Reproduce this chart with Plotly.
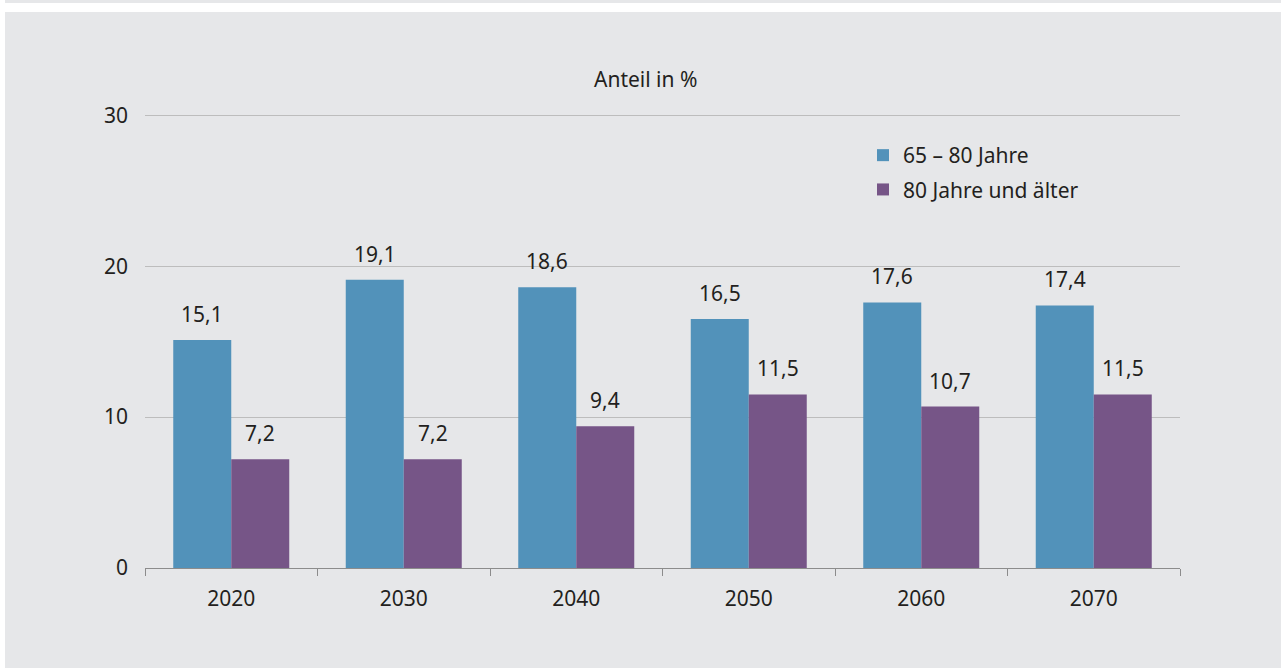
import plotly.graph_objects as go

years = ["2020", "2030", "2040", "2050", "2060", "2070"]
series_names = ["65 – 80 Jahre", "80 Jahre und älter"]
values_65_80 = [15.1, 19.1, 18.6, 16.5, 17.6, 17.4]
values_80plus = [7.2, 7.2, 9.4, 11.5, 10.7, 11.5]
y_ticks = [0, 10, 20, 30]
y_title = "Anteil in %"

W, H = 1281, 668
ML, MR, MT, MB = 145, 101, 113, 100
PW, PH = W - ML - MR, H - MT - MB

BG = "#E6E7E9"
BLUE = "#5292BA"
PURPLE = "#765587"
TXT = "#231F20"
FONT = "Noto Sans"
FS = 21

def px_x(p):
    return (p - ML) / PW

def px_y(p):
    return (H - MB - p) / PH

fig = go.Figure()
fig.add_trace(go.Bar(x=years, y=values_65_80, name=series_names[0],
                     marker=dict(color=BLUE, line=dict(width=0)),
                     legendgroup="a"))
fig.add_trace(go.Bar(x=years, y=values_80plus, name=series_names[1],
                     marker=dict(color=PURPLE, line=dict(width=0)),
                     legendgroup="b"))

annotations = []
for vals, shift in ((values_65_80, -29), (values_80plus, 29)):
    for i, v in enumerate(vals):
        annotations.append(dict(
            x=i, y=v, xref="x", yref="y",
            text=f"{v:.1f}".replace(".", ","),
            showarrow=False, xanchor="center", yanchor="bottom",
            xshift=shift, yshift=10,
            font=dict(family=FONT, size=FS, color=TXT)))

annotations.append(dict(
    x=px_x(645), y=px_y(79), xref="paper", yref="paper",
    text=y_title, showarrow=False, xanchor="center", yanchor="middle",
    font=dict(family=FONT, size=FS, color=TXT)))

shapes = [
    dict(type="rect", xref="paper", yref="paper",
         x0=px_x(-2), x1=px_x(5), y0=px_y(H + 2), y1=px_y(-2),
         fillcolor="white", line=dict(width=0), layer="above"),
    dict(type="rect", xref="paper", yref="paper",
         x0=px_x(-2), x1=px_x(W + 2), y0=px_y(12), y1=px_y(3),
         fillcolor="white", line=dict(width=0), layer="above"),
]

fig.update_layout(
    width=W, height=H, autosize=False,
    margin=dict(l=ML, r=MR, t=MT, b=MB, pad=0),
    paper_bgcolor=BG, plot_bgcolor=BG,
    barmode="group", bargap=0.3275, bargroupgap=0,
    font=dict(family=FONT, size=FS, color=TXT),
    showlegend=True,
    legend=dict(x=px_x(863), y=px_y(135), xanchor="left", yanchor="top",
                bgcolor="rgba(0,0,0,0)", font=dict(family=FONT, size=FS, color=TXT),
                traceorder="grouped", tracegroupgap=4, itemclick=False,
                itemdoubleclick=False),
    annotations=annotations,
    shapes=shapes,
    xaxis=dict(type="category", range=[-0.5, len(years) - 0.5],
               showline=True, linecolor="#8C8C8C", linewidth=1.2,
               ticks="outside", ticklen=7, tickcolor="#8C8C8C", tickwidth=1.2,
               tickson="boundaries", showgrid=False, ticklabelstandoff=12,
               tickfont=dict(family=FONT, size=FS, color=TXT), fixedrange=True),
    yaxis=dict(range=[0, 30.15], tickvals=y_ticks, showgrid=True, gridcolor="#BDBDBD",
               gridwidth=1, zeroline=False, showline=False, ticks="",
               ticklabelstandoff=16,
               tickfont=dict(family=FONT, size=FS, color=TXT), fixedrange=True),
)

fig.write_html("out.html", config={"displayModeBar": False},
               post_script="document.body.style.margin='0';")
